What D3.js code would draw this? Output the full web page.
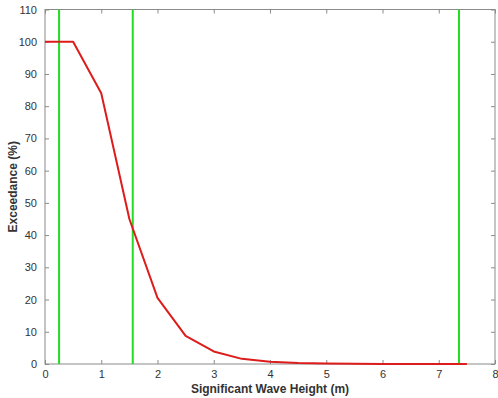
<!DOCTYPE html>
<html>
<head>
<meta charset="utf-8">
<script src="https://cdn.jsdelivr.net/npm/d3@7"></script>
<style>
  html, body { margin: 0; padding: 0; background: #fff; }
  svg { display: block; font-family: "Liberation Sans", Arial, sans-serif; }
</style>
</head>
<body>
<svg id="chart" width="498" height="398"></svg>
<script>
// Exceedance curve of significant wave height
const waveHeight = [0, 0.5, 1, 1.5, 2, 2.5, 3, 3.5, 4, 4.5, 5, 5.5, 6, 6.5, 7, 7.5];
const exceedance = [100, 100, 84, 45, 20.5, 8.7, 3.9, 1.6, 0.7, 0.3, 0.12, 0.05, 0.02, 0.01, 0, 0];
// Reference wave heights (vertical markers)
const markers = [0.25, 1.56, 7.36];
const xTicks = [0, 1, 2, 3, 4, 5, 6, 7, 8];
const yTicks = [0, 10, 20, 30, 40, 50, 60, 70, 80, 90, 100, 110];

const svg = d3.select("#chart");
const plotLeft = 45, plotRight = 495, plotTop = 9.5, plotBottom = 364;

const x = d3.scaleLinear().domain([0, 8]).range([plotLeft, plotRight]);
const y = d3.scaleLinear().domain([0, 110]).range([plotBottom, plotTop]);

const axisColor = "#8a8a8a";
const textColor = "#333";

// plot box
svg.append("rect")
  .attr("x", plotLeft).attr("y", plotTop)
  .attr("width", plotRight - plotLeft).attr("height", plotBottom - plotTop)
  .attr("fill", "#fff").attr("stroke", axisColor).attr("stroke-width", 1);

function styleAxis(g, showLabels) {
  g.select(".domain").remove();
  g.selectAll(".tick line").attr("stroke", axisColor);
  g.selectAll(".tick text")
    .attr("fill", textColor)
    .attr("font-size", 11)
    .style("display", showLabels ? null : "none");
}

// bottom / top axes with inward ticks
svg.append("g").attr("transform", `translate(0,${plotBottom})`)
  .call(d3.axisBottom(x).tickValues(xTicks).tickSizeInner(-4).tickSizeOuter(0).tickPadding(6))
  .call(g => styleAxis(g, true));
svg.append("g").attr("transform", `translate(0,${plotTop})`)
  .call(d3.axisTop(x).tickValues(xTicks).tickSizeInner(-4).tickSizeOuter(0))
  .call(g => styleAxis(g, false));

// left / right axes with inward ticks
svg.append("g").attr("transform", `translate(${plotLeft},0)`)
  .call(d3.axisLeft(y).tickValues(yTicks).tickSizeInner(-4).tickSizeOuter(0).tickPadding(8))
  .call(g => styleAxis(g, true));
svg.append("g").attr("transform", `translate(${plotRight},0)`)
  .call(d3.axisRight(y).tickValues(yTicks).tickSizeInner(-4).tickSizeOuter(0))
  .call(g => styleAxis(g, false));

// vertical markers
svg.append("g").selectAll("line").data(markers).join("line")
  .attr("x1", d => x(d)).attr("x2", d => x(d))
  .attr("y1", plotTop).attr("y2", plotBottom)
  .attr("stroke", "#22dd22").attr("stroke-width", 2);

// exceedance curve
const line = d3.line().x((d, i) => x(waveHeight[i])).y(d => y(d));
svg.append("path")
  .datum(exceedance)
  .attr("d", line)
  .attr("fill", "none")
  .attr("stroke", "#dd1c1c")
  .attr("stroke-width", 2)
  .attr("stroke-linejoin", "round");

// axis titles
svg.append("text")
  .attr("x", 270).attr("y", 393)
  .attr("text-anchor", "middle")
  .attr("font-size", 12).attr("font-weight", "bold").attr("fill", textColor)
  .text("Significant Wave Height (m)");

svg.append("text")
  .attr("transform", `translate(17,${(plotTop + plotBottom) / 2}) rotate(-90)`)
  .attr("text-anchor", "middle")
  .attr("font-size", 12).attr("font-weight", "bold").attr("fill", textColor)
  .text("Exceedance (%)");
</script>
</body>
</html>
